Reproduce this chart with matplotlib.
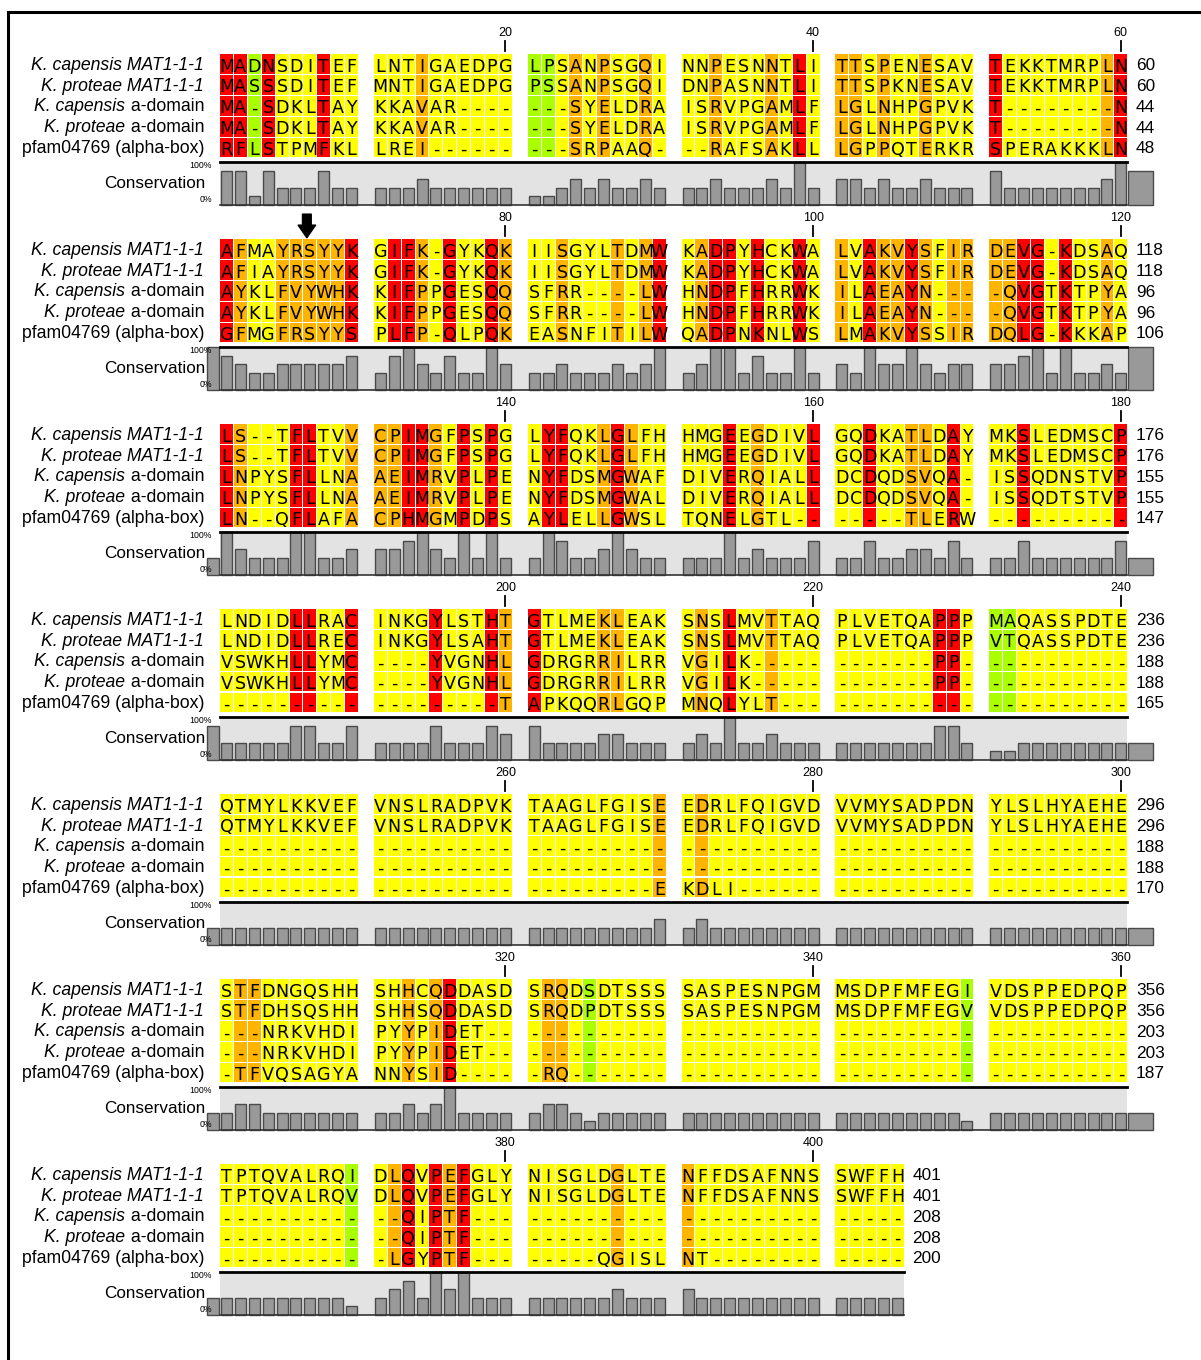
import matplotlib
matplotlib.use("Agg")
import matplotlib.pyplot as plt
from matplotlib.patches import Rectangle, Polygon
import numpy as np

# ---------------------------------------------------------------- data
row_labels = [
    [("K. capensis MAT1-1-1", "italic")],
    [("K. proteae MAT1-1-1", "italic")],
    [("K. capensis", "italic"), (" a-domain", "normal")],
    [("K. proteae", "italic"), (" a-domain", "normal")],
    [("pfam04769 (alpha-box)", "normal")],
]

kc_mat = [
    "MADNSDITEF LNTIGAEDPG LPSANPSGQI NNPESNNTLI TTSPENESAV TEKKTMRPLN",
    "AFMAYRSYYK GIFK-GYKQK IISGYLTDMW KADPYHCKWA LVAKVYSFIR DEVG-KDSAQ",
    "LS--TFLTVV CPIMGFPSPG LYFQKLGLFH HMGEEGDIVL GQDKATLDAY MKSLEDMSCP",
    "LNDIDLLRAC INKGYLSTHT GTLMEKLEAK SNSLMVTTAQ PLVETQAPPP MAQASSPDTE",
    "QTMYLKKVEF VNSLRADPVK TAAGLFGISE EDRLFQIGVD VVMYSADPDN YLSLHYAEHE",
    "STFDNGQSHH SHHCQDDASD SRQDSDTSSS SASPESNPGM MSDPFMFEGI VDSPPEDPQP",
    "TPTQVALRQI DLQVPEFGLY NISGLDGLTE NFFDSAFNNS SWFFH",
]
kp_mat = [
    "MASSSDITEF MNTIGAEDPG PSSANPSGQI DNPASNNTLI TTSPKNESAV TEKKTMRPLN",
    "AFIAYRSYYK GIFK-GYKQK IISGYLTDMW KADPYHCKWA LVAKVYSFIR DEVG-KDSAQ",
    "LS--TFLTVV CPIMGFPSPG LYFQKLGLFH HMGEEGDIVL GQDKATLDAY MKSLEDMSCP",
    "LNDIDLLREC INKGYLSAHT GTLMEKLEAK SNSLMVTTAQ PLVETQAPPP VTQASSPDTE",
    "QTMYLKKVEF VNSLRADPVK TAAGLFGISE EDRLFQIGVD VVMYSADPDN YLSLHYAEHE",
    "STFDHSQSHH SHHSQDDASD SRQDPDTSSS SASPESNPGM MSDPFMFEGV VDSPPEDPQP",
    "TPTQVALRQV DLQVPEFGLY NISGLDGLTE NFFDSAFNNS SWFFH",
]
kc_adom = [
    "MA-SDKLTAY KKAVAR---- ---SYELDRA ISRVPGAMLF LGLNHPGPVK T--------N",
    "AYKLFVYWHK KIFPPGESQQ SFRR----LW HNDPFHRRWK ILAEAYN--- -QVGTKTPYA",
    "LNPYSFLLNA AEIMRVPLPE NYFDSMGWAF DIVERQIALL DCDQDSVQA- ISSQDNSTVP",
    "VSWKHLLYMC ----YVGNHL GDRGRRILRR VGILK----- -------PP- ----------",
    "---------- ---------- ---------- ---------- ---------- ----------",
    "---NRKVHDI PYYPIDET-- ---------- ---------- ---------- ----------",
    "---------- --QIPTF--- ---------- ---------- -----",
]
kp_adom = [
    "MA-SDKLTAY KKAVAR---- ---SYELDRA ISRVPGAMLF LGLNHPGPVK T--------N",
    "AYKLFVYWHK KIFPPGESQQ SFRR----LW HNDPFHRRWK ILAEAYN--- -QVGTKTPYA",
    "LNPYSFLLNA AEIMRVPLPE NYFDSMGWAL DIVERQIALL DCDQDSVQA- ISSQDTSTVP",
    "VSWKHLLYMC ----YVGNHL GDRGRRILRR VGILK----- -------PP- ----------",
    "---------- ---------- ---------- ---------- ---------- ----------",
    "---NRKVHDI PYYPIDET-- ---------- ---------- ---------- ----------",
    "---------- --QIPTF--- ---------- ---------- -----",
]
pfam = [
    "RFLSTPMFKL LREI------ ---SRPAAQ- --RAFSAKLL LGPPQTERKR SPERAKKKLN",
    "GFMGFRSYYS PLFP-QLPQK EASNFITILW QADPNKNLWS LMAKVYSSIR DQLG-KKKAP",
    "LN--QFLAFA CPHMGMPDPS AYLELLGWSL TQNELGTL-- -----TLERW ----------",
    "---------- ---------T APKQQRLGQP MNQLYLT--- ---------- ----------",
    "---------- ---------- ---------E KDLI------ ---------- ----------",
    "-TFVQSAGYA NNYSID---- -RQ------- ---------- ---------- ----------",
    "---------- -LGYPTF--- -----QGISL NT-------- -----",
]
marked_column = 67          # alignment position flagged with the arrow
tick_step = 20

# ---------------------------------------------------------------- helpers
sequences = ["".join(b.replace(" ", "") for b in s)
             for s in (kc_mat, kp_mat, kc_adom, kp_adom, pfam)]
n_cols = len(sequences[0])
n_rows = len(sequences)


def conservation(col):
    residues = [s[col] for s in sequences if s[col] != "-"]
    if not residues:
        return 0.0
    return max(residues.count(r) for r in set(residues)) / n_rows


cons = np.array([conservation(i) for i in range(n_cols)])


def cell_colour(v):
    if v >= 0.79:
        return "#FF0000"
    if v >= 0.59:
        return "#FFB400"
    if v >= 0.39:
        return "#FFFF00"
    return "#AAFF00"


# ---------------------------------------------------------------- layout
W, H = 1201, 1360
PER_BLOCK, PER_GROUP = 60, 10
COL_W = 13.9
GROUP_PITCH = 153.86
X0 = 220.0
ROW_H = 20.8
Y0 = 54.3
BLOCK_H = 185.0
LABEL_X = 204.0

fig = plt.figure(figsize=(W / 100, H / 100), dpi=100)
ax = fig.add_axes([0, 0, 1, 1])
ax.set_xlim(0, W)
ax.set_ylim(H, 0)
ax.axis("off")
renderer = fig.canvas.get_renderer()

label_font = "Liberation Sans"
seq_font = "DejaVu Sans"


def col_x(i):
    return X0 + (i // PER_GROUP) * GROUP_PITCH + (i % PER_GROUP) * COL_W


n_blocks = int(np.ceil(n_cols / PER_BLOCK))
counts = np.zeros(n_rows, dtype=int)

for b in range(n_blocks):
    start = b * PER_BLOCK
    stop = min(n_cols, start + PER_BLOCK)
    ncol = stop - start
    top = Y0 + b * BLOCK_H
    last_col = ncol - 1
    block_right = col_x(last_col) + COL_W - 0.9

    # residue cells
    for i in range(ncol):
        col = start + i
        x = col_x(i)
        fc = cell_colour(cons[col])
        for r in range(n_rows):
            y = top + r * ROW_H
            ax.add_patch(Rectangle((x, y), COL_W - 1.0, ROW_H - 1.0,
                                   facecolor=fc, edgecolor="none"))
            ax.text(x + (COL_W - 1.0) / 2, y + 17.4, sequences[r][col],
                    ha="center", va="baseline", fontsize=12.6,
                    family=seq_font, color="black")

    # position ticks
    for i in range(ncol):
        pos = start + i + 1
        if pos % tick_step == 0:
            cx = col_x(i) + (COL_W - 1.0) / 2
            ax.plot([cx, cx], [top - 13, top - 3.5], color="black", lw=1.3)
            ax.text(cx, top - 21.5, str(pos), ha="center", va="center",
                    fontsize=9.0, family=label_font)

    # row labels and running residue counts
    for r in range(n_rows):
        y = top + r * ROW_H + 15.5
        xr = LABEL_X
        for text, style in reversed(row_labels[r]):
            t = ax.text(xr, y, text, ha="right", va="baseline",
                        fontsize=12.7, family=label_font, style=style)
            bb = t.get_window_extent(renderer=renderer)
            xr = bb.x0
        counts[r] += sum(1 for c in sequences[r][start:stop] if c != "-")
        ax.text(block_right + 8.5, y + 0.4, str(counts[r]), ha="left",
                va="baseline", fontsize=12.4, family=label_font)

    # conservation graph
    ctop = top + n_rows * ROW_H + 4.0
    cbot = ctop + 42.7
    ch = cbot - ctop
    ax.add_patch(Rectangle((X0, ctop), block_right - X0, ch,
                           facecolor="#E3E3E3", edgecolor="none", zorder=1))
    xs = np.array([col_x(i) + (COL_W - 1.0) / 2 for i in range(ncol)])
    ax.bar(xs, -cons[start:stop] * ch, width=11.0, bottom=cbot,
           color="#999999", edgecolor="#4A4A4A", linewidth=1.0, zorder=2)
    if start > 0:
        ax.bar(X0 - 7.5, -cons[start - 1] * ch, width=12.0, bottom=cbot,
               color="#999999", edgecolor="#4A4A4A", linewidth=1.0, zorder=2)
    if stop < n_cols:
        ax.bar(block_right + 13.5, -cons[stop] * ch, width=25.0, bottom=cbot,
               color="#999999", edgecolor="#4A4A4A", linewidth=1.0, zorder=2)
    ax.plot([X0, block_right], [ctop, ctop], color="black", lw=2.0, zorder=3)
    ax.plot([X0, block_right], [cbot, cbot], color="#333333", lw=1.2, zorder=3)
    ax.text(LABEL_X + 1, ctop + 21.5, "Conservation", ha="right", va="center",
            fontsize=12.3, family=label_font, zorder=4)
    ax.text(212, ctop + 3.6, "100%", ha="right", va="center",
            fontsize=6.3, family=label_font, zorder=4)
    ax.text(212, cbot - 5.5, "0%", ha="right", va="center",
            fontsize=6.3, family=label_font, zorder=4)

    # arrow over the flagged column
    if start < marked_column <= stop:
        i = marked_column - 1 - start
        cx = col_x(i) + (COL_W - 1.0) / 2 - 3.0
        y1, y2, y3 = top - 25.3, top - 14.3, top - 1.3
        ax.add_patch(Polygon([(cx - 4.5, y1), (cx + 4.5, y1), (cx + 4.5, y2),
                              (cx + 9.0, y2), (cx, y3), (cx - 9.0, y2),
                              (cx - 4.5, y2)], closed=True,
                             facecolor="black", edgecolor="black", lw=0.8))

# outer frame
ax.plot([8, 8, W], [H, 12, 12], color="black", lw=2.2, solid_joinstyle="miter")

fig.savefig("out.png", dpi=100)
